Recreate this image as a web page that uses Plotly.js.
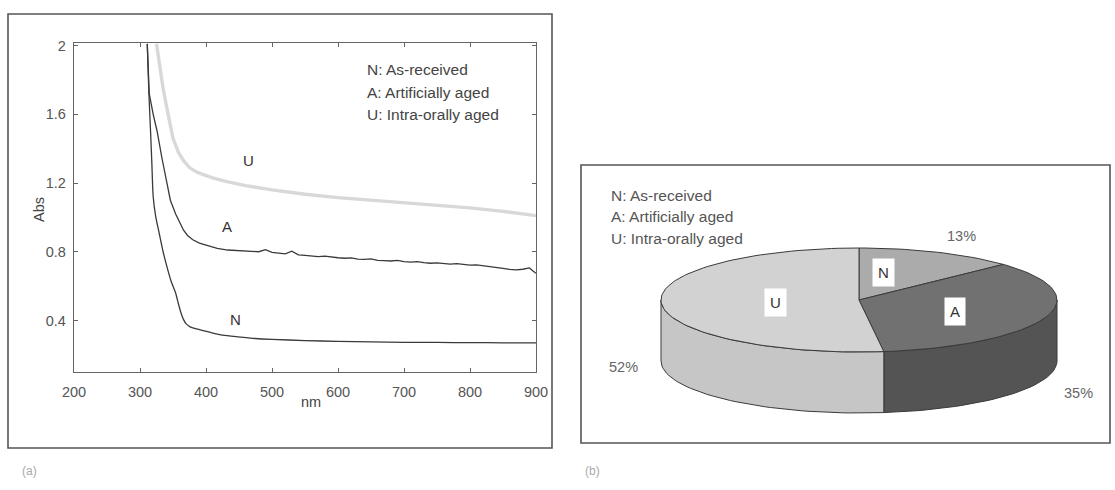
<!DOCTYPE html>
<html>
<head>
<meta charset="utf-8">
<script src="https://cdn.plot.ly/plotly-3.0.1.min.js"></script>
<style>
  html, body { margin: 0; padding: 0; background: #fff; }
  #chart { width: 1115px; height: 490px; }
</style>
</head>
<body>
<div id="chart"></div>
<script>
// ---- (a) UV-vis absorbance spectra ----
const nmN = [311, 313.5, 316, 318, 320, 324, 329, 335, 341, 347, 354, 358, 362, 366, 370, 376, 384, 394, 407, 425, 448, 475, 500, 550, 600, 650, 700, 750, 800, 850, 900];
const absN = [2.01, 1.72, 1.5, 1.31, 1.12, 1.0, 0.91, 0.8, 0.71, 0.63, 0.56, 0.5, 0.445, 0.405, 0.38, 0.363, 0.352, 0.342, 0.33, 0.315, 0.305, 0.295, 0.29, 0.283, 0.278, 0.275, 0.273, 0.272, 0.271, 0.27, 0.27];

const nmA = [311, 314, 320, 326, 333, 340, 346, 354, 360, 366, 372, 380, 390, 402, 417, 433, 452, 472,
  480, 490, 500, 510, 520, 530, 540, 550, 560, 570, 580, 590, 600, 610, 620, 630, 640, 650, 660, 670, 680, 690,
  700, 710, 720, 730, 740, 750, 760, 770, 780, 790, 800, 810, 820, 830, 840, 850, 860, 870, 880, 890, 895, 900];
const absA = [2.01, 1.72, 1.6, 1.5, 1.35, 1.22, 1.1, 1.02, 0.97, 0.925, 0.895, 0.87, 0.85, 0.835, 0.82, 0.81, 0.805, 0.80,
  0.800, 0.812, 0.796, 0.792, 0.788, 0.803, 0.782, 0.779, 0.776, 0.772, 0.774, 0.768, 0.765, 0.762, 0.764, 0.757, 0.755, 0.758, 0.750, 0.748, 0.746, 0.750,
  0.742, 0.740, 0.743, 0.737, 0.733, 0.735, 0.730, 0.728, 0.731, 0.726, 0.722, 0.724, 0.719, 0.716, 0.712, 0.703, 0.697, 0.695, 0.698, 0.706, 0.690, 0.675];

const nmU = [325, 330, 335, 340, 345, 350, 358, 366, 375, 385, 395, 410, 430, 460, 500, 550, 600, 650, 700, 750, 800, 850, 880, 900];
const absU = [2.01, 1.87, 1.75, 1.65, 1.55, 1.46, 1.38, 1.33, 1.29, 1.265, 1.25, 1.23, 1.21, 1.185, 1.16, 1.135, 1.115, 1.1, 1.085, 1.07, 1.055, 1.035, 1.02, 1.01];

const xTicks = [200, 300, 400, 500, 600, 700, 800, 900];
const yTicks = [0.4, 0.8, 1.2, 1.6, 2];
const yTickText = ['0.4', '0.8', '1.2', '1.6', '2'];

const legendLines = ['N: As-received', 'A: Artificially aged', 'U: Intra-orally aged'];

// ---- (b) colour-change distribution ----
const sliceNames = ['N', 'A', 'U'];
const sliceShares = [13, 35, 52];
const sliceLabels = ['13%', '35%', '52%'];

// page geometry (pixels)
const W = 1115, H = 490;
const px = v => v / W;
const py = v => 1 - v / H;

const FONT = 'Liberation Sans, Arial, sans-serif';

const traces = [];
traces.push({ x: nmU, y: absU, type: 'scatter', mode: 'lines', line: { color: '#d8d8d8', width: 3.4 }, hoverinfo: 'skip', xaxis: 'x', yaxis: 'y' });
traces.push({ x: nmA, y: absA, type: 'scatter', mode: 'lines', line: { color: '#3a3a3a', width: 1.3 }, hoverinfo: 'skip', xaxis: 'x', yaxis: 'y' });
traces.push({ x: nmN, y: absN, type: 'scatter', mode: 'lines', line: { color: '#3a3a3a', width: 1.3, shape: 'spline', smoothing: 0.6 }, hoverinfo: 'skip', xaxis: 'x', yaxis: 'y' });

// ---- 3-D pie built as filled polygons on a pixel-scaled axis pair ----
const pie = { cx: 859, cy: 300, rx: 198, ry: 52, depth: 61 };
const topColors = { N: '#ababab', A: '#717171', U: '#d2d2d2' };
const sideColors = { N: '#8e8e8e', A: '#545454', U: '#c6c6c6' };
const deg = Math.PI / 180;
const pt = (t, dy) => [pie.cx + pie.rx * Math.cos(t * deg), pie.cy - pie.ry * Math.sin(t * deg) + (dy || 0)];

// slices run clockwise from 12 o'clock
const total = sliceShares.reduce((a, b) => a + b, 0);
let start = 90;
const slices = sliceNames.map((n, i) => {
  const sweep = 360 * sliceShares[i] / total;
  const s = { name: n, a1: start, a2: start - sweep };
  start -= sweep;
  return s;
});

function arc(a1, a2, dy) {
  const pts = [];
  const n = Math.max(2, Math.ceil(Math.abs(a1 - a2) / 2));
  for (let k = 0; k <= n; k++) pts.push(pt(a1 + (a2 - a1) * k / n, dy));
  return pts;
}

// side walls: only the front half (angles between -180 and 0) is visible
slices.forEach(s => {
  const ranges = [];
  for (const off of [0, -360, 360]) {
    const h = Math.min(s.a1 + off, 0), l = Math.max(s.a2 + off, -180);
    if (h > l) ranges.push([h, l]);
  }
  ranges.forEach(([h, l]) => {
    const top = arc(h, l, 0);
    const bot = arc(l, h, pie.depth);
    const poly = top.concat(bot);
    poly.push(top[0]);
    traces.push({
      x: poly.map(p => p[0]), y: poly.map(p => p[1]), type: 'scatter', mode: 'lines',
      fill: 'toself', fillcolor: sideColors[s.name], line: { color: '#3a3a3a', width: 1 },
      hoverinfo: 'skip', xaxis: 'x2', yaxis: 'y2'
    });
  });
});

// top faces
slices.forEach(s => {
  const poly = [[pie.cx, pie.cy]].concat(arc(s.a1, s.a2, 0));
  poly.push([pie.cx, pie.cy]);
  traces.push({
    x: poly.map(p => p[0]), y: poly.map(p => p[1]), type: 'scatter', mode: 'lines',
    fill: 'toself', fillcolor: topColors[s.name], line: { color: '#3a3a3a', width: 1 },
    hoverinfo: 'skip', xaxis: 'x2', yaxis: 'y2'
  });
});

// label placement for the pie (pixel coordinates on the x2/y2 pair)
const boxPos = { N: [884, 272], A: [955, 311], U: [776, 302] };
const pctPos = { N: [962, 236], A: [1078, 393], U: [624, 367] };

const annotations = [];
// curve tags in panel (a)
[['U', 465, 1.33], ['A', 432, 0.945], ['N', 445, 0.405]].forEach(([t, x, y]) => {
  annotations.push({ text: t, x: x, y: y, xref: 'x', yref: 'y', showarrow: false, font: { family: FONT, size: 15, color: '#333' } });
});
// key text, panel (a)
legendLines.forEach((t, i) => {
  annotations.push({ text: t, x: px(365), y: py(70 + 22 * i), xref: 'paper', yref: 'paper', xanchor: 'left', yanchor: 'middle', showarrow: false, font: { family: FONT, size: 15.5, color: '#444' } });
});
// key text, panel (b)
legendLines.forEach((t, i) => {
  annotations.push({ text: t, x: px(609), y: py(195 + 21.5 * i), xref: 'paper', yref: 'paper', xanchor: 'left', yanchor: 'middle', showarrow: false, font: { family: FONT, size: 15.5, color: '#555' } });
});
// slice letters in white boxes and share percentages
sliceNames.forEach((n, i) => {
  annotations.push({ text: n, x: boxPos[n][0], y: boxPos[n][1], xref: 'x2', yref: 'y2', showarrow: false, bgcolor: '#ffffff', borderpad: 5, font: { family: FONT, size: 15, color: '#333' } });
  annotations.push({ text: sliceLabels[i], x: pctPos[n][0], y: pctPos[n][1], xref: 'x2', yref: 'y2', showarrow: false, font: { family: FONT, size: 14.5, color: '#666' } });
});
// panel captions
annotations.push({ text: '(a)', x: px(20), y: py(480), xref: 'paper', yref: 'paper', showarrow: false, font: { family: FONT, size: 12, color: '#aaa' } });
annotations.push({ text: '(b)', x: px(592), y: py(480), xref: 'paper', yref: 'paper', showarrow: false, font: { family: FONT, size: 12, color: '#aaa' } });
// axis titles
annotations.push({ text: 'Abs', x: px(29), y: py(210), xref: 'paper', yref: 'paper', textangle: -90, showarrow: false, font: { family: FONT, size: 14.5, color: '#444' } });
annotations.push({ text: 'nm', x: px(299), y: py(412), xref: 'paper', yref: 'paper', showarrow: false, font: { family: FONT, size: 14.5, color: '#444' } });

const frameLine = { color: '#555', width: 1.6 };
const shapes = [
  { type: 'rect', xref: 'paper', yref: 'paper', x0: px(8), x1: px(552), y0: py(448), y1: py(14), line: frameLine },
  { type: 'rect', xref: 'paper', yref: 'paper', x0: px(581), x1: px(1110), y0: py(443), y1: py(165), line: frameLine }
];

const axA = {
  showgrid: false, zeroline: false, showline: true, linecolor: '#666', linewidth: 1.2,
  mirror: 'ticks', ticks: 'inside', ticklen: 4, tickcolor: '#666',
  tickfont: { family: FONT, size: 14.5, color: '#555' }
};

const layout = {
  width: W, height: H,
  margin: { l: 0, r: 0, t: 0, b: 0 },
  paper_bgcolor: '#fff', plot_bgcolor: '#fff',
  showlegend: false,
  xaxis: Object.assign({}, axA, { domain: [px(74), px(536)], range: [200, 900], tickvals: xTicks, anchor: 'y', ticklabelstandoff: 6 }),
  yaxis: Object.assign({}, axA, { domain: [py(372), py(43)], range: [0.1, 2.015], tickvals: yTicks, ticktext: yTickText, anchor: 'x', ticklabelstandoff: 4 }),
  xaxis2: { domain: [px(580), px(1110)], range: [580, 1110], visible: false, anchor: 'y2', fixedrange: true },
  yaxis2: { domain: [py(443), py(165)], range: [443, 165], visible: false, anchor: 'x2', fixedrange: true },
  annotations: annotations,
  shapes: shapes
};

Plotly.newPlot('chart', traces, layout, { staticPlot: true, displayModeBar: false });
</script>
</body>
</html>
